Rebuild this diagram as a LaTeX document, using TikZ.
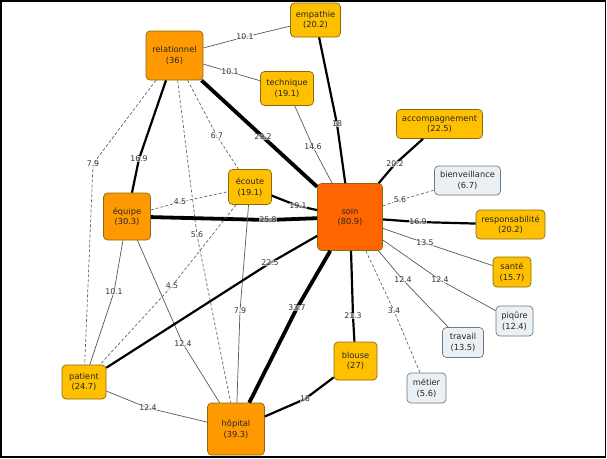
\documentclass[tikz,border=0pt]{standalone}
\usepackage{fontspec}
\setmainfont{DejaVu Sans}
\usepackage{tikz}

\definecolor{hubfill}{HTML}{FF6600}
\definecolor{orangefill}{HTML}{FF9900}
\definecolor{yellowfill}{HTML}{FFC000}
\definecolor{palefill}{HTML}{EAF0F4}
\definecolor{boxline}{HTML}{8A6A10}
\definecolor{paleline}{HTML}{6F7A82}
\definecolor{labtxt}{HTML}{333333}

\begin{document}
\begin{tikzpicture}[x=1pt,y=-1pt,
    box/.style={draw=boxline,line width=0.7pt,rounded corners=4pt,align=center,
      inner sep=1pt,text=black!85,font=\fontsize{8.3}{10.5}\selectfont},
    hub/.style={box,fill=hubfill},
    orangebox/.style={box,fill=orangefill},
    yellowbox/.style={box,fill=yellowfill},
    palebox/.style={box,fill=palefill,draw=paleline},
    heavy/.style={line width=3.8pt},
    strong/.style={line width=2.2pt},
    weak/.style={line width=0.7pt,draw=black!65},
    faint/.style={line width=0.7pt,draw=black!60,dash pattern=on 3pt off 2pt},
    lab/.style={font=\fontsize{7.8}{9}\selectfont,text=labtxt,fill=white,
      fill opacity=0.6,text opacity=1,inner sep=0.4pt}]

    % frame
    \useasboundingbox (0,0) rectangle (607,458);
    \fill[white] (0,0) rectangle (607,458);
    \draw[line width=1.6pt] (1,1) rectangle (605.5,457);

    % words
    \node[hub,minimum width=65pt,minimum height=67pt] (soin) at (350,217) {soin\\(80.9)};
    \node[orangebox,minimum width=57pt,minimum height=49pt] (relationnel) at (174.5,55.5) {relationnel\\(36)};
    \node[orangebox,minimum width=47pt,minimum height=47pt] (equipe) at (127,216.5) {équipe\\(30.3)};
    \node[orangebox,minimum width=57pt,minimum height=52pt] (hopital) at (236,429) {hôpital\\(39.3)};
    \node[yellowbox,minimum width=50pt,minimum height=34pt] (empathie) at (315.5,20) {empathie\\(20.2)};
    \node[yellowbox,minimum width=53pt,minimum height=34pt] (technique) at (287,88.5) {technique\\(19.1)};
    \node[yellowbox,minimum width=86pt,minimum height=29pt] (accompagnement) at (439.5,124) {accompagnement\\(22.5)};
    \node[yellowbox,minimum width=43pt,minimum height=35pt] (ecoute) at (250,187) {écoute\\(19.1)};
    \node[yellowbox,minimum width=69pt,minimum height=29pt] (responsabilite) at (510.5,224.5) {responsabilité\\(20.2)};
    \node[yellowbox,minimum width=38pt,minimum height=30pt] (sante) at (512,272) {santé\\(15.7)};
    \node[yellowbox,minimum width=44pt,minimum height=34pt] (patient) at (84,382) {patient\\(24.7)};
    \node[yellowbox,minimum width=43pt,minimum height=38pt] (blouse) at (355.5,361) {blouse\\(27)};
    \node[palebox,minimum width=66pt,minimum height=29pt] (bienveillance) at (467.5,180.5) {bienveillance\\(6.7)};
    \node[palebox,minimum width=37pt,minimum height=30pt] (piqure) at (514.5,321) {piqûre\\(12.4)};
    \node[palebox,minimum width=41pt,minimum height=30pt] (travail) at (463,342.5) {travail\\(13.5)};
    \node[palebox,minimum width=39pt,minimum height=30pt] (metier) at (426.5,388) {métier\\(5.6)};

    % links from relationnel
    \draw[weak] (relationnel) -- (245,37) node[lab] (l-rel-emp) {10.1} -- (empathie);
    \draw[weak] (relationnel) -- (230,72) node[lab] (l-rel-tec) {10.1} -- (technique);
    \draw[heavy] (relationnel) -- (263,137) node[lab] (l-rel-soin) {29.2} -- (soin);
    \draw[strong] (relationnel) -- (139,159) node[lab] (l-rel-equ) {16.9} -- (equipe);
    \draw[faint] (relationnel) -- (217,136) node[lab] (l-rel-eco) {6.7} -- (ecoute);
    \draw[faint] (relationnel) -- (93,164) node[lab] (l-rel-pat) {7.9} -- (patient);
    \draw[faint] (relationnel) -- (197,235) node[lab] (l-rel-hop) {5.6} -- (hopital);

    % links from equipe and ecoute
    \draw[faint] (equipe) -- (180,202) node[lab] (l-equ-eco) {4.5} -- (ecoute);
    \draw[heavy] (equipe) -- (268,220) node[lab] (l-equ-soin) {25.8} -- (soin);
    \draw[strong] (ecoute) -- (298,206) node[lab] (l-eco-soin) {19.1} -- (soin);
    \draw[weak] (equipe) -- (114,292) node[lab] (l-equ-pat) {10.1} -- (patient);
    \draw[weak] (equipe) -- (183,344) node[lab] (l-equ-hop) {12.4} -- (hopital);
    \draw[faint] (ecoute) -- (172,286) node[lab] (l-eco-pat) {4.5} -- (patient);
    \draw[weak] (ecoute) -- (240,311) node[lab] (l-eco-hop) {7.9} -- (hopital);

    % links to patient, hopital, blouse
    \draw[strong] (soin) -- (270,263) node[lab] (l-soin-pat) {22.5} -- (patient);
    \draw[heavy] (soin) -- (297,308) node[lab] (l-soin-hop) {33.7} -- (hopital);
    \draw[strong] (soin) -- (353,316) node[lab] (l-soin-blo) {21.3} -- (blouse);
    \draw[strong] (blouse) -- (305,399) node[lab] (l-blo-hop) {18} -- (hopital);
    \draw[weak] (patient) -- (148,408) node[lab] (l-pat-hop) {12.4} -- (hopital);

    % links from soin
    \draw[strong] (soin) -- (337,124) node[lab] (l-soin-emp) {18} -- (empathie);
    \draw[weak] (soin) -- (313,147) node[lab] (l-soin-tec) {14.6} -- (technique);
    \draw[strong] (soin) -- (395,164) node[lab] (l-soin-acc) {20.2} -- (accompagnement);
    \draw[faint] (soin) -- (400,200) node[lab] (l-soin-bie) {5.6} -- (bienveillance);
    \draw[strong] (soin) -- (418,222) node[lab] (l-soin-res) {16.9} -- (responsabilite);
    \draw[weak] (soin) -- (425,243) node[lab] (l-soin-san) {13.5} -- (sante);
    \draw[weak] (soin) -- (440,280) node[lab] (l-soin-piq) {12.4} -- (piqure);
    \draw[weak] (soin) -- (403,280) node[lab] (l-soin-tra) {12.4} -- (travail);
    \draw[faint] (soin) -- (394,311) node[lab] (l-soin-met) {3.4} -- (metier);
\end{tikzpicture}
\end{document}
